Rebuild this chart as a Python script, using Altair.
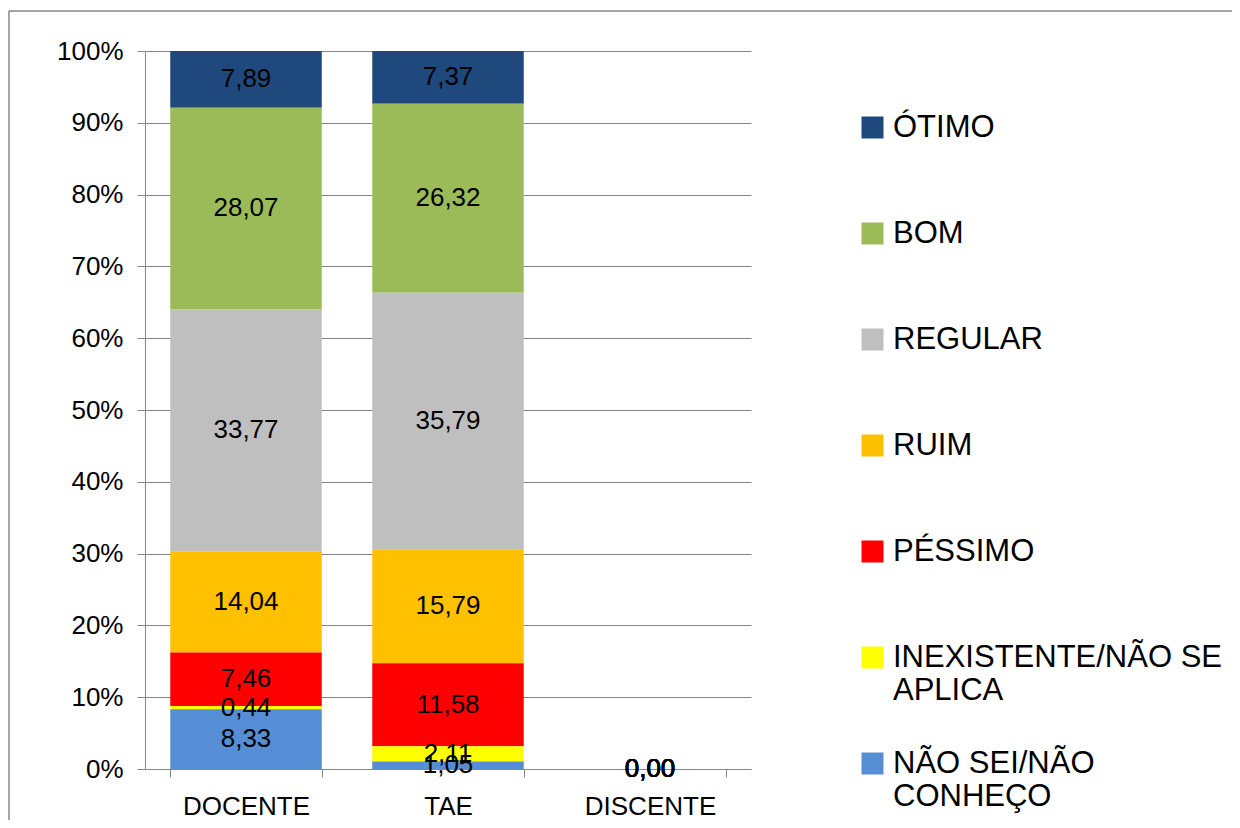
import altair as alt
import pandas as pd

categories = ["DOCENTE", "TAE", "DISCENTE"]
levels = ["ÓTIMO", "BOM", "REGULAR", "RUIM", "PÉSSIMO",
          "INEXISTENTE/NÃO SE APLICA", "NÃO SEI/NÃO CONHEÇO"]
colors = ["#1F497D", "#9BBB59", "#BFBFBF", "#FFC000", "#FF0000", "#FFFF00", "#558ED5"]

otimo = [7.89, 7.37, 0.00]
bom = [28.07, 26.32, 0.00]
regular = [33.77, 35.79, 0.00]
ruim = [14.04, 15.79, 0.00]
pessimo = [7.46, 11.58, 0.00]
inexistente = [0.44, 2.11, 0.00]
nao_sei = [8.33, 1.05, 0.00]

series = [otimo, bom, regular, ruim, pessimo, inexistente, nao_sei]
rows = []
for li, (lev, vals) in enumerate(zip(levels, series)):
    for c, v in zip(categories, vals):
        rows.append({"cat": c, "nivel": lev, "v": v, "ordem": len(levels) - 1 - li})
df = pd.DataFrame(rows)

FONT = "Liberation Sans"
GRAY = "#868686"

base = alt.Chart(df).transform_calculate(
    rotulo="replace(format(datum.v, '.2f'), '.', ',')"
)

x_enc = alt.X("cat:N", sort=categories, title=None,
              scale=alt.Scale(paddingInner=0.25, paddingOuter=0.125),
              axis=alt.Axis(labelAngle=0, labelFontSize=26, labelFont=FONT, labelColor="black",
                            tickBand="extent", tickSize=8, tickColor=GRAY, domainColor=GRAY,
                            labelPadding=16, grid=False))

legend_expr = (
    "datum.label == 'INEXISTENTE/NÃO SE APLICA' ? ['INEXISTENTE/NÃO SE', 'APLICA'] : "
    "datum.label == 'NÃO SEI/NÃO CONHEÇO' ? ['NÃO SEI/NÃO', 'CONHEÇO'] : [datum.label, ' ']"
)

bars = base.mark_bar().encode(
    x=x_enc,
    y=alt.Y("v:Q", stack="zero", title=None,
            scale=alt.Scale(domain=[0, 100], nice=False),
            axis=alt.Axis(values=list(range(0, 101, 10)), labelExpr="datum.value + '%'",
                          labelFontSize=26, labelFont=FONT, labelColor="black",
                          tickSize=8, tickColor=GRAY, domainColor=GRAY, gridColor=GRAY,
                          labelPadding=14)),
    color=alt.Color("nivel:N", scale=alt.Scale(domain=levels, range=colors),
                    legend=alt.Legend(title=None, orient="none", legendX=712, legendY=61,
                                      symbolType="square", symbolSize=484, symbolStrokeWidth=0,
                                      labelFontSize=31, labelFont=FONT, labelColor="black",
                                      labelOffset=5, rowPadding=41, labelLimit=400,
                                      labelExpr=legend_expr)),
    order=alt.Order("ordem:Q"),
)

labels = base.mark_text(font=FONT, fontSize=26, color="black").encode(
    x=alt.X("cat:N", sort=categories),
    y=alt.Y("v:Q", stack="zero", bandPosition=0.5),
    detail="nivel:N",
    text="rotulo:N",
    order=alt.Order("ordem:Q"),
)

one = pd.DataFrame({"a": [0]})
frame_top = alt.Chart(one).mark_rule(color=GRAY, strokeWidth=1.5, clip=False).encode(
    x=alt.value(-136), x2=alt.value(1200), y=alt.value(-40))
frame_left = alt.Chart(one).mark_rule(color=GRAY, strokeWidth=1.5, clip=False).encode(
    x=alt.value(-136), y=alt.value(-40), y2=alt.value(900))

chart = alt.layer(frame_top, frame_left, bars, labels).properties(
    width=606, height=718,
    autosize=alt.AutoSizeParams(type="none"),
    padding={"left": 137, "top": 43, "right": 481, "bottom": 51},
).configure_view(stroke=None)

chart.save("out.html", embed_options={"renderer": "svg", "actions": False})
